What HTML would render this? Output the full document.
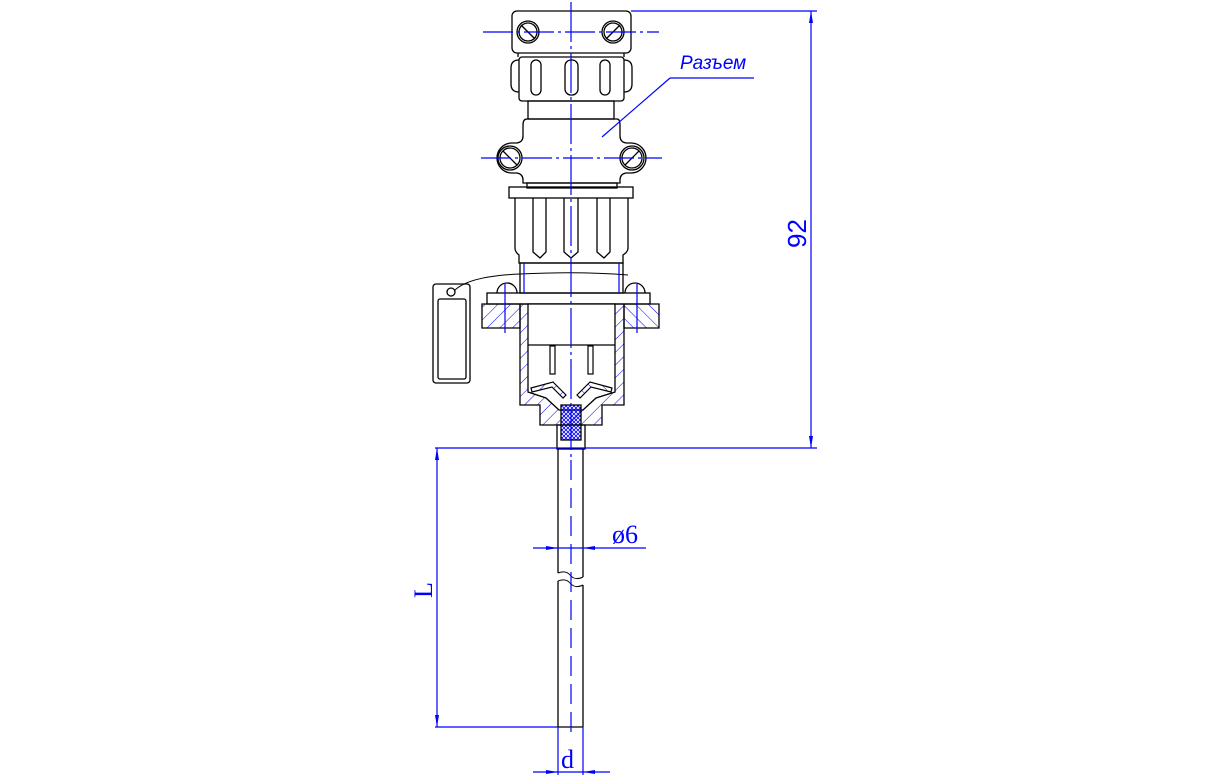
<!DOCTYPE html>
<html><head><meta charset="utf-8"><style>html,body{margin:0;padding:0;background:#fff}svg{display:block}</style></head>
<body>
<svg width="1208" height="780" viewBox="0 0 1208 780" xmlns="http://www.w3.org/2000/svg">
<defs>
<pattern id="h" patternUnits="userSpaceOnUse" width="9" height="9" patternTransform="rotate(45)"><line x1="0" y1="0" x2="0" y2="9" stroke="#0000ff" stroke-width="1"/></pattern>
<pattern id="h2" patternUnits="userSpaceOnUse" width="9" height="9" patternTransform="rotate(-45)"><line x1="0" y1="0" x2="0" y2="9" stroke="#0000ff" stroke-width="1"/></pattern>
<pattern id="x" patternUnits="userSpaceOnUse" width="4" height="4"><path d="M0 0L4 4M4 0L0 4" stroke="#0000ff" stroke-width="0.8"/></pattern>
</defs>
<rect width="1208" height="780" fill="#fff"/>
<g fill="none" stroke="#000" stroke-width="1.3">
<!-- top bracket -->
<rect x="512" y="11" width="119" height="42" rx="5"/>
<circle cx="528" cy="32" r="11"/><circle cx="528" cy="32" r="9"/>
<circle cx="613" cy="32" r="11"/><circle cx="613" cy="32" r="9"/>
<line x1="521" y1="25" x2="535" y2="39"/><line x1="606" y1="39" x2="620" y2="25"/>
<line x1="518" y1="53" x2="518" y2="57"/><line x1="624" y1="53" x2="624" y2="57"/>
<!-- knurled nut -->
<rect x="519" y="57" width="105" height="44" rx="3"/>
<path d="M519 60 Q511 60 511 68 L511 84 Q511 92 519 92"/>
<path d="M624 60 Q632 60 632 68 L632 84 Q632 92 624 92"/>
<rect x="531" y="60" width="10" height="35" rx="5"/>
<rect x="565" y="60" width="13" height="35" rx="6"/>
<rect x="600" y="60" width="10" height="35" rx="5"/>
<!-- neck -->
<rect x="528" y="101" width="86" height="18"/>
<!-- body with lobes -->
<path d="M527 119 L617 119 Q620 119 620 125 L620 136 Q620 142 626 143 L631 143 A15 15 0 0 1 631 173 L626 173 Q620 174 620 180 L620 183 L523 183 L523 180 Q523 174 517 173 L512 173 A15 15 0 0 1 512 143 L517 143 Q523 142 523 136 L523 125 Q523 119 527 119 Z"/>
<circle cx="510" cy="158" r="12"/><circle cx="510" cy="158" r="10"/>
<circle cx="632" cy="158" r="12"/><circle cx="632" cy="158" r="10"/>
<line x1="503" y1="151" x2="517" y2="165"/><line x1="625" y1="165" x2="639" y2="151"/>
<rect x="527" y="183" width="90" height="5"/>
<rect x="509" y="187" width="124" height="11"/>
<!-- lower nut -->
<path d="M515 198 L515 248 Q515 252 519 255 L519 263 L623 263 L623 255 Q628 252 628 248 L628 198"/>
<path d="M533 198 L533 252 L540 258 L546 252 L546 198"/>
<path d="M564 198 L564 252 L571 258 L578 252 L578 198"/>
<path d="M597 198 L597 252 L604 258 L610 252 L610 198"/>
<rect x="520" y="263" width="103" height="30"/>
<!-- flange plate -->
<rect x="487" y="293" width="163" height="11"/>
<path d="M497 293 A10 10 0 0 1 517 293"/><path d="M625 293 A10 10 0 0 1 645 293"/>
<!-- tag -->
<rect x="433" y="284" width="37" height="99" rx="3"/>
<rect x="438" y="299" width="28" height="80" rx="2"/>
<circle cx="451" cy="292" r="4"/>
<path d="M455 290 Q470 276 520 274 Q580 271 628 275" stroke-width="1"/>
</g>
<!-- hatched sections -->
<g stroke="#000" stroke-width="1.3">
<path d="M482 304 L520 304 L520 328 L482 328 Z" fill="url(#h)"/>
<path d="M624 304 L659 304 L659 328 L624 328 Z" fill="url(#h2)"/>
<path d="M520 304 L624 304 L624 405 L602 405 L602 425 L540 425 L540 405 L520 405 Z" fill="url(#h)"/>
<path d="M528 304 L615 304 L615 392 L596 398 L583 410 L559 410 L546 398 L528 392 Z" fill="#fff"/>
<line x1="528" y1="345" x2="615" y2="345"/>
<rect x="561" y="405" width="20" height="35" fill="url(#x)"/>
<rect x="557" y="425" width="28" height="24" fill="none"/>
</g>
<g fill="#fff" stroke="#000" stroke-width="1.2">
<rect x="550" y="346" width="5" height="28"/><rect x="588" y="346" width="5" height="28"/>
<path d="M531 388 L553 382 L566 395 L563 398 L552 387 L532 392 Z" fill="url(#h)"/>
<path d="M612 388 L590 382 L577 395 L580 398 L591 387 L611 392 Z" fill="url(#h2)"/>
</g>
<!-- tube -->
<g fill="none" stroke="#000" stroke-width="1.3">
<line x1="558" y1="449" x2="558" y2="573"/><line x1="583" y1="449" x2="583" y2="577"/>
<line x1="558" y1="581" x2="558" y2="727"/><line x1="583" y1="585" x2="583" y2="727"/>
<line x1="558" y1="727" x2="583" y2="727"/>
<path d="M558 573 Q566 570 570 575 Q575 581 583 577" stroke-width="1"/>
<path d="M558 581 Q566 578 570 583 Q575 589 583 585" stroke-width="1"/>
</g>
<!-- blue center/dim lines -->
<g stroke="#0000ff" stroke-width="1.2" fill="none">
<line x1="571" y1="2" x2="571" y2="460" stroke-dasharray="40 4 3 4"/>
<line x1="571" y1="460" x2="571" y2="735" stroke-dasharray="20 8"/>
<line x1="483" y1="32" x2="659" y2="32" stroke-dasharray="30 4 3 4"/>
<line x1="481" y1="158" x2="662" y2="158" stroke-dasharray="30 4 3 4"/>
<line x1="631" y1="11" x2="817" y2="11"/>
<line x1="811" y1="11" x2="811" y2="448"/>
<line x1="435" y1="448" x2="817" y2="448"/>
<line x1="437" y1="448" x2="437" y2="727"/>
<line x1="435" y1="727" x2="558" y2="727"/>
<line x1="533" y1="548" x2="646" y2="548"/>
<line x1="558" y1="727" x2="558" y2="775"/><line x1="583" y1="727" x2="583" y2="775"/>
<line x1="533" y1="772" x2="610" y2="772"/>
<line x1="670" y1="78" x2="754" y2="78"/><line x1="670" y1="78" x2="602" y2="137"/>
<line x1="505" y1="284" x2="505" y2="333"/><line x1="637" y1="284" x2="637" y2="333"/>
<line x1="524" y1="263" x2="524" y2="293"/><line x1="619" y1="263" x2="619" y2="293"/>
</g>
<g fill="#0000ff">
<path d="M811 11 l-2 12 l4 0z"/><path d="M811 448 l-2 -12 l4 0z"/>
<path d="M437 448 l-2 12 l4 0z"/><path d="M437 727 l-2 -12 l4 0z"/>
<path d="M558 548 l-12 -2 l0 4z"/><path d="M583 548 l12 -2 l0 4z"/>
<path d="M558 772 l-12 -2 l0 4z"/><path d="M583 772 l12 -2 l0 4z"/>
</g>
<g fill="#0000ff" font-family="Liberation Serif, serif">
<text x="612" y="543" font-size="26">ø6</text>
<text x="561" y="768" font-size="26">d</text>
<text x="432" y="598" font-size="26" transform="rotate(-90 432 598)">L</text>
<text x="806" y="248" font-size="26" font-family="Liberation Sans, sans-serif" transform="rotate(-90 806 248)">92</text>
<text x="680" y="69" font-size="19" font-style="italic" font-family="Liberation Sans, sans-serif">Разъем</text>
</g>
</svg>
</body></html>
